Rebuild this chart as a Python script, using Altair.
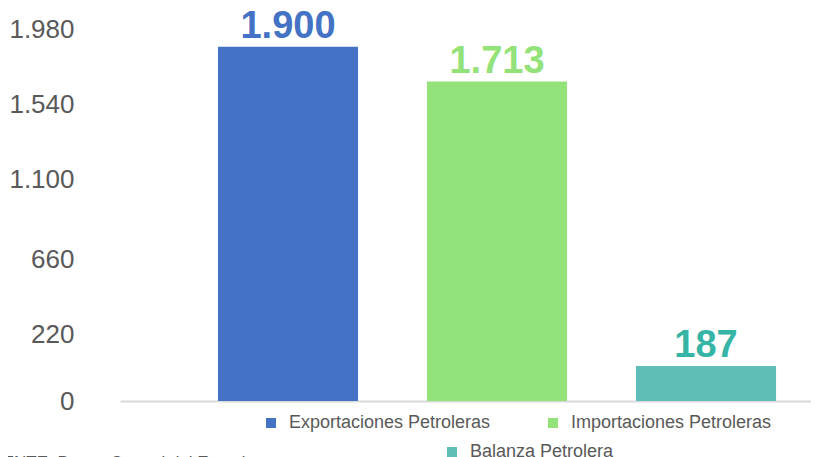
import altair as alt
import pandas as pd

categories = ["Exportaciones Petroleras", "Importaciones Petroleras", "Balanza Petrolera"]
values = [1900, 1713, 187]
value_labels = ["1.900", "1.713", "187"]
bar_colors = ["#4472C4", "#93E27A", "#5FBEB8"]
label_colors = ["#4472C4", "#93E27A", "#36B5A7"]
tick_values = [0, 354, 757, 1186, 1589, 1991]
tick_labels = ["0", "220", "660", "1.100", "1.540", "1.980"]
source_text = "FUENTE: Banco Central del Ecuador"

df = pd.DataFrame({"cat": categories, "val": values, "lbl": value_labels})

expr = "''"
for v, l in reversed(list(zip(tick_values, tick_labels))):
    expr = f"datum.value == {v} ? '{l}' : ({expr})"

FONT = "Liberation Sans"
GRAY = "#595959"

x_enc = alt.X(
    "cat:N",
    sort=categories,
    scale=alt.Scale(paddingInner=0.33, paddingOuter=0.318, align=0.737),
    axis=alt.Axis(labels=False, ticks=False, title=None, domainColor="#D9D9D9", domainWidth=2),
)
y_enc = alt.Y(
    "val:Q",
    scale=alt.Scale(domain=[0, 2000], nice=False),
    axis=alt.Axis(
        values=tick_values, labelExpr=expr, grid=False, domain=False, ticks=False,
        title=None, labelFontSize=26, labelColor=GRAY, labelPadding=46, labelFont=FONT,
    ),
)

base = alt.Chart(df)

bars = base.mark_bar().encode(
    x=x_enc,
    y=y_enc,
    color=alt.Color(
        "cat:N",
        scale=alt.Scale(domain=categories, range=bar_colors),
        legend=alt.Legend(
            values=categories[:2], orient="none", legendX=142, legendY=386,
            direction="horizontal", title=None, symbolType="square", symbolSize=100,
            labelFontSize=18, labelFont=FONT, labelColor=GRAY, labelOffset=9,
            labelLimit=500, columnPadding=53, symbolStrokeWidth=0, padding=0,
        ),
    ),
)

bars2 = base.transform_filter(alt.datum.cat == categories[2]).mark_bar().encode(
    x=x_enc,
    y=y_enc,
    fill=alt.Fill(
        "cat:N",
        scale=alt.Scale(domain=[categories[2]], range=[bar_colors[2]]),
        legend=alt.Legend(
            orient="none", legendX=323, legendY=415, direction="horizontal",
            title=None, symbolType="square", symbolSize=100, labelFontSize=18,
            labelFont=FONT, labelColor=GRAY, labelOffset=9, labelLimit=500,
            symbolStrokeWidth=0, padding=0,
        ),
    ),
)

labels = base.mark_text(
    fontSize=38, fontWeight="bold", font=FONT, baseline="alphabetic", dy=-9
).encode(
    x=x_enc,
    y=y_enc,
    text="lbl:N",
    color=alt.Color("cat:N", scale=alt.Scale(domain=categories, range=label_colors), legend=None),
)

src = alt.Chart(pd.DataFrame({"t": [source_text]})).mark_text(
    align="left", baseline="alphabetic", fontSize=17, color=GRAY, font=FONT
).encode(text="t:N", x=alt.value(-140), y=alt.value(440))

chart = alt.layer(bars, bars2, labels, src).resolve_scale(color="independent").properties(
    width=691,
    height=373,
    autosize=alt.AutoSizeParams(type="none"),
    padding={"left": 112, "top": 20, "right": 0, "bottom": 60},
).configure_view(stroke=None)

chart.save("out.html", embed_options={"renderer": "svg", "actions": False})
